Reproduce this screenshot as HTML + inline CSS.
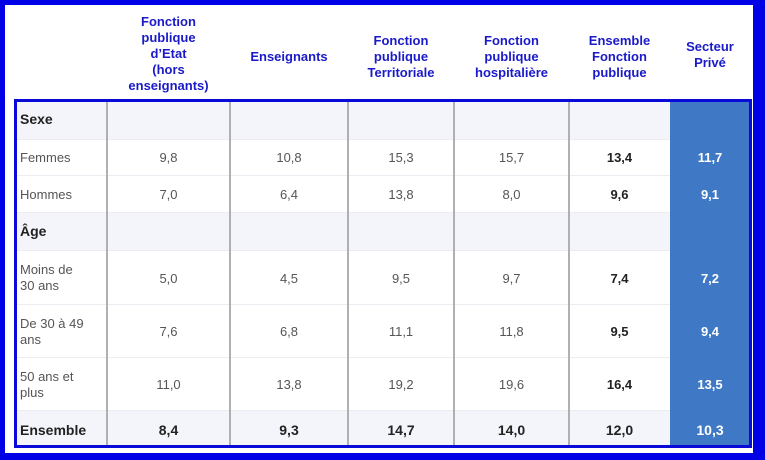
<!DOCTYPE html>
<html><head><meta charset="utf-8"><style>
body{margin:0;width:765px;height:460px;overflow:hidden;background:#fff;font-family:"Liberation Sans",sans-serif}
.frame{position:absolute;left:0;top:0;width:765px;height:460px;box-sizing:border-box;border:solid #0000e6;border-width:5px 12px 7px 5px}
.h{position:absolute;top:7px;height:100px;display:flex;align-items:center;justify-content:center;text-align:center;color:#1a1ac8;font-weight:bold;font-size:13px;line-height:16px}
.tbl{position:absolute;left:14px;top:99px;width:738px;height:349px;box-sizing:border-box;border:3px solid #0a0ad8;overflow:hidden}
.row{position:absolute;left:0;width:732px;border-bottom:1px solid #ececf2}
.alt{background:#f4f4fb}
.vl{position:absolute;top:0;bottom:0;width:2px;background:#b0b0b0}
.c{position:absolute;display:flex;align-items:center;justify-content:center;font-size:13px;color:#555;height:100%;top:0}
.l{justify-content:flex-start;padding-left:3px;line-height:16px}
.pv{position:absolute;left:653px;top:0;width:79px;height:100%;background:#3f79c6}
</style></head><body>
<div class="frame"></div>
<div class="h" style="left:107px;width:123px;top:4px">Fonction<br>publique<br>d’Etat<br>(hors<br>enseignants)</div>
<div class="h" style="left:230px;width:118px">Enseignants</div>
<div class="h" style="left:348px;width:106px">Fonction<br>publique<br>Territoriale</div>
<div class="h" style="left:454px;width:115px">Fonction<br>publique<br>hospitalière</div>
<div class="h" style="left:569px;width:101px">Ensemble<br>Fonction<br>publique</div>
<div class="h" style="left:670px;width:80px;top:5px">Secteur<br>Privé</div>
<div class="tbl">
<div class="row alt" style="top:0;height:37px"></div>
<div class="row" style="top:37px;height:36px"></div>
<div class="row" style="top:74px;height:36px"></div>
<div class="row alt" style="top:111px;height:37px"></div>
<div class="row" style="top:149px;height:53px"></div>
<div class="row" style="top:203px;height:52px"></div>
<div class="row" style="top:256px;height:52px"></div>
<div class="row alt" style="top:309px;height:40px"></div>
<div class="pv"></div>
<div class="vl" style="left:89px"></div><div class="vl" style="left:212px"></div><div class="vl" style="left:330px"></div><div class="vl" style="left:436px"></div><div class="vl" style="left:551px"></div>
</div>
<div id="data"></div>
<script>
var rows=[[100,37,"Sexe",null,1],[139,37,"Femmes",["9,8","10,8","15,3","15,7","13,4","11,7"]],[176,37,"Hommes",["7,0","6,4","13,8","8,0","9,6","9,1"]],[212,38,"Âge",null,1],[251,54,"Moins de<br>30 ans",["5,0","4,5","9,5","9,7","7,4","7,2"]],[305,53,"De 30 à 49<br>ans",["7,6","6,8","11,1","11,8","9,5","9,4"]],[358,53,"50 ans et<br>plus",["11,0","13,8","19,2","19,6","16,4","13,5"]],[411,38,"Ensemble",["8,4","9,3","14,7","14,0","12,0","10,3"],2]];
var xs=[[107,123],[230,118],[348,106],[454,115],[569,101],[670,80]];
var h="";
rows.forEach(function(r){
 var bl=r[4]?"font-weight:bold;color:#222;font-size:14px":"";
 h+='<div class="c l" style="left:17px;width:88px;top:'+r[0]+'px;height:'+r[1]+'px;'+bl+'">'+r[2]+'</div>';
 if(r[3])r[3].forEach(function(v,i){
  var st="left:"+xs[i][0]+"px;width:"+xs[i][1]+"px;top:"+r[0]+"px;height:"+r[1]+"px;";
  if(i==4||r[4]==2)st+="font-weight:bold;color:#222;";
  if(r[4]==2)st+="font-size:14px;";
  if(i==5)st+="font-weight:bold;color:#fff;";
  h+='<div class="c" style="'+st+'">'+v+'</div>';
 });
});
document.getElementById("data").innerHTML=h;
</script>
</body></html>
